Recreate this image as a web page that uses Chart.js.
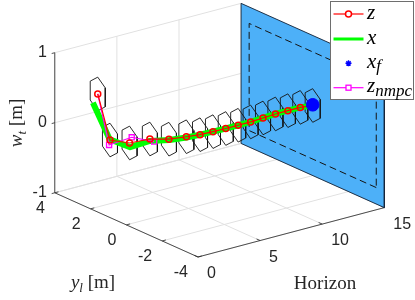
<!DOCTYPE html>
<html><head><meta charset="utf-8">
<script src="https://cdn.jsdelivr.net/npm/chart.js@4/dist/chart.umd.min.js"></script>
<style>html,body{margin:0;padding:0;background:#fff;}#wrap{width:415px;height:300px;}</style>
</head><body>
<div id="wrap"><canvas id="c" width="415" height="300"></canvas></div>
<script>
// ---------------- data ----------------
const horizon = [0,1,2,3,4,5,6,7,8,9,10,11,12,13,14,15];
// nominal trajectory z (y_l, w_t)
const zY = [1.60,1.61,1.21,0.77,0.40,0.12,0.05,0.02,0.00,0.00,0.00,0.00,0.00,0.00,0.00,0.00];
const zW = [0.686,-0.02,-0.063,-0.003,-0.01,0.01,0.00,0.00,0.00,0.00,0.00,0.01,0.02,0.02,0.02,0.00];
// actual trajectory x
const xY = [1.87,1.63,1.18,0.77,0.38,0.12,0.05,0.02,0.00,0.00,0.00,0.00,0.00,0.00,0.00,0.00];
const xW = [0.53,-0.01,-0.12,-0.03,-0.02,0.00,0.00,0.00,0.00,0.00,0.00,0.01,0.02,0.02,0.02,0.00];
// NMPC prediction
const nmpcH = [0,1,2,3];
const nmpcY = [1.60,1.66,1.09,0.53];
const nmpcW = [0.686,-0.096,0.032,-0.013];
// terminal point
const xfH = [15];
const xfY = [0.00];
const xfW = [0.01];
// tube cross-section (hexagon) offsets around z
const tubeY = [0.42,0.00,-0.42,-0.42,0.00,0.42];
const tubeW = [0.135,0.24,0.135,-0.135,-0.24,-0.135];
// terminal plane and constraint box
const planeH = 15;
const planeY = [-4,4];
const planeW = [-1,1];
const boundY = [-3.55,3.55];
const boundW = [-0.765,0.765];
// axes
const hLim = [0,15], yLim = [-4,4], wLim = [-1,1];
const hTicks = [0,5,10,15];
const yTicks = [-4,-2,0,2,4];
const wTicks = [-1,0,1];
const hTickLabels = ['0','5','10','15'];
const yTickLabels = ['-4','-2','0','2','4'];
const wTickLabels = ['-1','0','1'];

// ---------------- 3D view (orthographic, az/el) ----------------
const AZ = 37.55*Math.PI/180, EL = 20.16*Math.PI/180, SCALE = 235, ASPECT = [1,1,0.635];
function P(h,y,w){
  const xn=(h-hLim[0])/(hLim[1]-hLim[0])*ASPECT[0];
  const yn=(y-yLim[0])/(yLim[1]-yLim[0])*ASPECT[1];
  const zn=(w-wLim[0])/(wLim[1]-wLim[0])*ASPECT[2];
  return {x: SCALE*(xn*Math.cos(AZ)-yn*Math.sin(AZ)),
          y: SCALE*((xn*Math.sin(AZ)+yn*Math.cos(AZ))*Math.sin(EL)+zn*Math.cos(EL))};
}
const GAP = {x:NaN,y:NaN};
function joinSegs(list){const out=[];list.forEach((seg,i)=>{if(i)out.push(GAP);seg.forEach(p=>out.push(P(p[0],p[1],p[2])));});return out;}
function rect(h,ys,ws){return [[h,ys[0],ws[0]],[h,ys[1],ws[0]],[h,ys[1],ws[1]],[h,ys[0],ws[1]],[h,ys[0],ws[0]]];}

const gridSegs=[];
yTicks.forEach(y=>gridSegs.push([[hLim[0],y,wLim[0]],[hLim[1],y,wLim[0]]]));
hTicks.forEach(h=>gridSegs.push([[h,yLim[0],wLim[0]],[h,yLim[1],wLim[0]]]));
wTicks.forEach(w=>gridSegs.push([[hLim[0],yLim[1],w],[hLim[1],yLim[1],w]]));
hTicks.forEach(h=>gridSegs.push([[h,yLim[1],wLim[0]],[h,yLim[1],wLim[1]]]));

const axisSegs=[
  [[hLim[0],yLim[1],wLim[0]],[hLim[0],yLim[1],wLim[1]]],
  [[hLim[0],yLim[0],wLim[0]],[hLim[0],yLim[1],wLim[0]]],
  [[hLim[0],yLim[0],wLim[0]],[hLim[1],yLim[0],wLim[0]]]
];
wTicks.forEach(w=>axisSegs.push([[hLim[0],yLim[1],w],[hLim[0]-0.25,yLim[1],w]]));
yTicks.forEach(y=>axisSegs.push([[hLim[0],y,wLim[0]],[hLim[0]+0.3,y,wLim[0]]]));
hTicks.forEach(h=>axisSegs.push([[h,yLim[0],wLim[0]],[h,yLim[0]+0.2,wLim[0]]]));

const hexSegs = horizon.map((h,i)=>{const pts=tubeY.map((dy,k)=>[h,zY[i]+dy,zW[i]+tubeW[k]]);pts.push(pts[0]);return pts;});

const SERIF='"Liberation Serif","DejaVu Serif",serif';
const SANS='"Liberation Sans",Arial,sans-serif';
const ink='rgb(38,38,38)';

function runsWidth(ctx,runs){let w=0;for(const r of runs){ctx.font=r.font;w+=ctx.measureText(r.t).width;}return w;}
function drawRuns(ctx,runs,x,y,align){
  const total=runsWidth(ctx,runs);
  let cx=align==='center'?x-total/2:align==='right'?x-total:x;
  for(const r of runs){ctx.font=r.font;ctx.fillText(r.t,cx,y+(r.dy||0));cx+=ctx.measureText(r.t).width;}
}

const textPlugin={
  id:'text3d',
  afterDatasetsDraw(chart){
    const ctx=chart.ctx, sx=chart.scales.x, sy=chart.scales.y;
    const px=p=>({x:sx.getPixelForValue(p.x),y:sy.getPixelForValue(p.y)});
    ctx.save();
    ctx.fillStyle=ink;ctx.textBaseline='middle';ctx.font='16px '+SANS;
    ctx.textAlign='right';
    wTicks.forEach((w,i)=>{const q=px(P(hLim[0],yLim[1],w));ctx.fillText(wTickLabels[i],q.x-8,q.y);});
    yTicks.forEach((y,i)=>{const q=px(P(hLim[0],y,wLim[0]));ctx.fillText(yTickLabels[i],q.x-10,q.y+16);});
    ctx.textAlign='left';
    hTicks.forEach((h,i)=>{const q=px(P(h,yLim[0],wLim[0]));ctx.fillText(hTickLabels[i],q.x+9,q.y+17);});
    // axis labels
    ctx.textBaseline='alphabetic';ctx.textAlign='left';
    drawRuns(ctx,[{t:'Horizon',font:'19px '+SERIF}],325,289,'center');
    drawRuns(ctx,[{t:'y',font:'italic 19px '+SERIF},{t:'l',font:'italic 13px '+SERIF,dy:4},{t:' [m]',font:'19px '+SERIF}],93,288,'center');
    ctx.save();ctx.translate(22,123);ctx.rotate(-Math.PI/2);
    drawRuns(ctx,[{t:'w',font:'italic 19px '+SERIF},{t:'t',font:'italic 13px '+SERIF,dy:4},{t:' [m]',font:'19px '+SERIF}],0,0,'center');
    ctx.restore();
    // legend
    const L={l:330.5,t:1.5,r:413.5,b:99.5};
    ctx.fillStyle='#fff';ctx.fillRect(L.l,L.t,L.r-L.l,L.b-L.t);
    ctx.strokeStyle='rgb(110,110,110)';ctx.lineWidth=1;ctx.strokeRect(L.l,L.t,L.r-L.l,L.b-L.t);
    const rows=[14,39,63.3,87.7], x0=333.5,x1=363.5,xm=348.5,tx=367;
    // z
    ctx.strokeStyle='#ff0000';ctx.lineWidth=1.2;ctx.beginPath();ctx.moveTo(x0,rows[0]);ctx.lineTo(x1,rows[0]);ctx.stroke();
    ctx.fillStyle='#fff';ctx.lineWidth=1.5;ctx.beginPath();ctx.arc(xm,rows[0],3,0,2*Math.PI);ctx.fill();ctx.stroke();
    // x
    ctx.strokeStyle='#00ff00';ctx.lineWidth=3;ctx.beginPath();ctx.moveTo(x0,rows[1]);ctx.lineTo(x1,rows[1]);ctx.stroke();
    // x_f
    ctx.strokeStyle='#0000ff';ctx.lineWidth=1.4;ctx.beginPath();
    for(let k=0;k<4;k++){const a=k*Math.PI/4;ctx.moveTo(xm-3*Math.cos(a),rows[2]-3*Math.sin(a));ctx.lineTo(xm+3*Math.cos(a),rows[2]+3*Math.sin(a));}
    ctx.stroke();
    // z_nmpc
    ctx.strokeStyle='#ff00ff';ctx.lineWidth=1.2;ctx.beginPath();ctx.moveTo(x0,rows[3]);ctx.lineTo(x1,rows[3]);ctx.stroke();
    ctx.fillStyle='#fff';ctx.lineWidth=1.3;ctx.fillRect(xm-2.5,rows[3]-2.5,5,5);ctx.strokeRect(xm-2.5,rows[3]-2.5,5,5);
    ctx.fillStyle='#000';
    const M='italic 21px '+SERIF, S='italic 17px '+SERIF;
    drawRuns(ctx,[{t:'z',font:M}],tx,rows[0]+4.5,'left');
    drawRuns(ctx,[{t:'x',font:M}],tx,rows[1]+4.5,'left');
    drawRuns(ctx,[{t:'x',font:M},{t:'f',font:S,dy:3}],tx,rows[2]+4.5,'left');
    drawRuns(ctx,[{t:'z',font:M},{t:'nmpc',font:S,dy:3.5}],tx,rows[3]+4.5,'left');
    ctx.restore();
  }
};

new Chart(document.getElementById('c').getContext('2d'),{
  type:'line',
  data:{datasets:[
    {label:'x_f',data:xfH.map((h,i)=>P(h,xfY[i],xfW[i])),showLine:false,pointStyle:'circle',pointRadius:6.3,
      pointBackgroundColor:'#0000ff',pointBorderColor:'#0000ff',pointBorderWidth:1,order:1},
    {label:'z',data:horizon.map((h,i)=>P(h,zY[i],zW[i])),borderColor:'#ff0000',backgroundColor:'rgba(0,0,0,0)',borderWidth:1.2,
      pointRadius:3,pointBorderWidth:1.5,pointBorderColor:'#ff0000',pointBackgroundColor:'rgba(0,0,0,0)',order:2},
    {label:'z_nmpc',data:nmpcH.map((h,i)=>P(h,nmpcY[i],nmpcW[i])),borderColor:'#ff00ff',backgroundColor:'rgba(0,0,0,0)',borderWidth:1.2,
      pointStyle:'rect',pointRadius:c=>c.dataIndex===0?0:3.6,pointBorderWidth:1.3,pointBorderColor:'#ff00ff',pointBackgroundColor:'rgba(0,0,0,0)',order:3},
    {label:'x',data:horizon.map((h,i)=>P(h,xY[i],xW[i])),borderColor:'#00ff00',borderWidth:6,borderJoinStyle:'round',pointRadius:0,order:4},
    {label:'tube',data:joinSegs(hexSegs),borderColor:'rgb(20,20,20)',borderWidth:0.9,pointRadius:0,order:5},
    {label:'bound',data:joinSegs([rect(planeH,boundY,boundW)]),borderColor:'rgb(20,20,20)',borderWidth:1,borderDash:[7,4],pointRadius:0,order:6},
    {label:'plane',data:joinSegs([rect(planeH,planeY,planeW)]),fill:'shape',backgroundColor:'rgb(77,176,248)',borderColor:'rgb(20,35,55)',borderWidth:0.9,pointRadius:0,order:7},
    {label:'axes',data:joinSegs(axisSegs),borderColor:ink,borderWidth:0.8,pointRadius:0,order:8},
    {label:'grid',data:joinSegs(gridSegs),borderColor:'rgb(225,225,225)',borderWidth:1,pointRadius:0,order:9}
  ]},
  options:{
    responsive:false,animation:false,events:[],
    layout:{padding:0,autoPadding:false},
    plugins:{legend:{display:false},tooltip:{enabled:false}},
    elements:{line:{tension:0}},
    scales:{
      x:{type:'linear',min:-198,max:217,display:false},
      y:{type:'linear',min:-43,max:257,display:false}
    }
  },
  plugins:[textPlugin]
});
</script>
</body></html>
